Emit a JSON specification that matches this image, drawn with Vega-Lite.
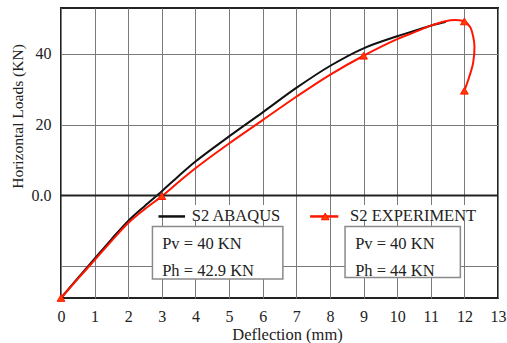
{
  "$schema": "https://vega.github.io/schema/vega-lite/v6.json",
  "width": 437,
  "height": 290,
  "autosize": {"type": "none"},
  "padding": {"left": 61, "top": 8, "right": 9, "bottom": 45},
  "data": {"values": [{}]},
  "config": {
    "view": {"stroke": "#222222", "strokeWidth": 2},
    "font": "Liberation Serif",
    "axis": {
      "grid": true,
      "gridColor": "#7a7a7a",
      "gridWidth": 1,
      "gridOpacity": 1,
      "domain": false,
      "ticks": false,
      "labelOverlap": false,
      "labelFlush": false,
      "labelFont": "Liberation Serif",
      "labelFontSize": 16,
      "labelColor": "#222222",
      "titleFont": "Liberation Serif",
      "titleFontWeight": "normal",
      "titleColor": "#222222"
    },
    "axisX": {"tickCount": 20, "format": "d"},
    "axisY": {"tickCount": 10}
  },
  "datasets": {
    "curves": [
      {"series": "S2 ABAQUS", "step": 1, "deflection": 0, "load": -29},
      {"series": "S2 ABAQUS", "step": 2, "deflection": 0.5, "load": -23.4},
      {"series": "S2 ABAQUS", "step": 3, "deflection": 1, "load": -17.9},
      {"series": "S2 ABAQUS", "step": 4, "deflection": 1.5, "load": -12.4},
      {"series": "S2 ABAQUS", "step": 5, "deflection": 2, "load": -7.2},
      {"series": "S2 ABAQUS", "step": 6, "deflection": 2.5, "load": -2.9},
      {"series": "S2 ABAQUS", "step": 7, "deflection": 3, "load": 1.2},
      {"series": "S2 ABAQUS", "step": 8, "deflection": 3.5, "load": 5.5},
      {"series": "S2 ABAQUS", "step": 9, "deflection": 4, "load": 9.6},
      {"series": "S2 ABAQUS", "step": 10, "deflection": 5, "load": 16.7},
      {"series": "S2 ABAQUS", "step": 11, "deflection": 6, "load": 23.5},
      {"series": "S2 ABAQUS", "step": 12, "deflection": 7, "load": 30.4},
      {"series": "S2 ABAQUS", "step": 13, "deflection": 8, "load": 36.6},
      {"series": "S2 ABAQUS", "step": 14, "deflection": 9, "load": 41.6},
      {"series": "S2 ABAQUS", "step": 15, "deflection": 10, "load": 45.0},
      {"series": "S2 ABAQUS", "step": 16, "deflection": 10.5, "load": 46.5},
      {"series": "S2 ABAQUS", "step": 17, "deflection": 11, "load": 48.0},
      {"series": "S2 ABAQUS", "step": 18, "deflection": 11.45, "load": 49.1},
      {"series": "S2 EXPERIMENT", "step": 1, "deflection": 0, "load": -29},
      {"series": "S2 EXPERIMENT", "step": 2, "deflection": 0.5, "load": -23.6},
      {"series": "S2 EXPERIMENT", "step": 3, "deflection": 1, "load": -18.3},
      {"series": "S2 EXPERIMENT", "step": 4, "deflection": 1.5, "load": -12.9},
      {"series": "S2 EXPERIMENT", "step": 5, "deflection": 2, "load": -7.8},
      {"series": "S2 EXPERIMENT", "step": 6, "deflection": 2.5, "load": -3.8},
      {"series": "S2 EXPERIMENT", "step": 7, "deflection": 3, "load": -0.2},
      {"series": "S2 EXPERIMENT", "step": 8, "deflection": 3.5, "load": 3.8},
      {"series": "S2 EXPERIMENT", "step": 9, "deflection": 4, "load": 7.7},
      {"series": "S2 EXPERIMENT", "step": 10, "deflection": 5, "load": 14.7},
      {"series": "S2 EXPERIMENT", "step": 11, "deflection": 6, "load": 21.3},
      {"series": "S2 EXPERIMENT", "step": 12, "deflection": 7, "load": 27.9},
      {"series": "S2 EXPERIMENT", "step": 13, "deflection": 8, "load": 34.1},
      {"series": "S2 EXPERIMENT", "step": 14, "deflection": 9, "load": 39.5},
      {"series": "S2 EXPERIMENT", "step": 15, "deflection": 10, "load": 44.2},
      {"series": "S2 EXPERIMENT", "step": 16, "deflection": 10.5, "load": 46.1},
      {"series": "S2 EXPERIMENT", "step": 17, "deflection": 11, "load": 48.0},
      {"series": "S2 EXPERIMENT", "step": 18, "deflection": 11.4, "load": 49.2},
      {"series": "S2 EXPERIMENT", "step": 19, "deflection": 11.75, "load": 49.6},
      {"series": "S2 EXPERIMENT", "step": 20, "deflection": 12, "load": 49.2},
      {"series": "S2 EXPERIMENT", "step": 21, "deflection": 12.17, "load": 47.6},
      {"series": "S2 EXPERIMENT", "step": 22, "deflection": 12.26, "load": 45.0},
      {"series": "S2 EXPERIMENT", "step": 23, "deflection": 12.3, "load": 42.1},
      {"series": "S2 EXPERIMENT", "step": 24, "deflection": 12.26, "load": 37.5},
      {"series": "S2 EXPERIMENT", "step": 25, "deflection": 12.15, "load": 33.7},
      {"series": "S2 EXPERIMENT", "step": 26, "deflection": 12, "load": 29.6}
    ],
    "tests": [
      {"deflection": 0, "load": -29},
      {"deflection": 3, "load": -0.2},
      {"deflection": 9, "load": 39.5},
      {"deflection": 12, "load": 49.2},
      {"deflection": 12, "load": 29.6}
    ]
  },
  "layer": [
    {
      "data": {"name": "curves"},
      "mark": {"type": "line", "interpolate": "catmull-rom", "strokeWidth": 2},
      "encoding": {
        "x": {
          "field": "deflection",
          "type": "quantitative",
          "scale": {"domain": [0, 13], "nice": false, "zero": false},
          "axis": {
            "values": [0, 1, 2, 3, 4, 5, 6, 7, 8, 9, 10, 11, 12, 13],
            "tickCount": 20,
            "format": "d",
            "labelOverlap": false,
            "labelFlush": false,
            "labelPadding": 10,
            "title": "Deflection (mm)",
            "titleFontSize": 16.5,
            "titleX": 226,
            "titleY": 41,
            "titleBaseline": "alphabetic"
          }
        },
        "y": {
          "field": "load",
          "type": "quantitative",
          "scale": {"domain": [-29, 53], "nice": false, "zero": false},
          "axis": {
            "values": [-20, 0, 20, 40],
            "tickCount": 10,
            "labelPadding": 10,
            "labelExpr": "datum.value == 0 ? '0.0' : (datum.value == -20 ? '' : format(datum.value, 'd'))",
            "title": "Horizontal Loads (KN)",
            "titleFontSize": 15.5,
            "titleX": -44,
            "titleY": 108,
            "titleAngle": 270,
            "titleAlign": "center",
            "titleBaseline": "middle"
          }
        },
        "color": {
          "field": "series",
          "type": "nominal",
          "scale": {"domain": ["S2 ABAQUS", "S2 EXPERIMENT"], "range": ["#111111", "#ff1500"]},
          "legend": null
        },
        "order": {"field": "step", "type": "quantitative"}
      }
    },
    {
      "mark": {"type": "rule", "color": "#222222", "strokeWidth": 2},
      "encoding": {"y": {"datum": 0, "type": "quantitative"}}
    },
    {
      "data": {"name": "tests"},
      "mark": {"type": "point", "shape": "triangle-up", "size": 60, "filled": true, "fill": "#ff3c00", "stroke": "#ff1500", "strokeWidth": 1, "opacity": 1},
      "encoding": {
        "x": {"field": "deflection", "type": "quantitative"},
        "y": {"field": "load", "type": "quantitative"}
      }
    },
    {
      "mark": {"type": "rect", "fill": "white"},
      "encoding": {
        "x": {"datum": 3.8, "type": "quantitative"},
        "x2": {"datum": 6.65},
        "y": {"datum": -2.7, "type": "quantitative"},
        "y2": {"datum": -7.1}
      }
    },
    {
      "mark": {"type": "rect", "fill": "white"},
      "encoding": {
        "x": {"datum": 8.5, "type": "quantitative"},
        "x2": {"datum": 12.5},
        "y": {"datum": -2.7, "type": "quantitative"},
        "y2": {"datum": -7.1}
      }
    },
    {
      "mark": {"type": "rule", "color": "#111111", "strokeWidth": 2.5},
      "encoding": {
        "x": {"datum": 2.9, "type": "quantitative"},
        "x2": {"datum": 3.69},
        "y": {"datum": -5.94, "type": "quantitative"}
      }
    },
    {
      "mark": {"type": "rule", "color": "#ff1500", "strokeWidth": 2.5},
      "encoding": {
        "x": {"datum": 7.41, "type": "quantitative"},
        "x2": {"datum": 8.25},
        "y": {"datum": -5.94, "type": "quantitative"}
      }
    },
    {
      "mark": {"type": "point", "shape": "triangle-up", "size": 60, "filled": true, "fill": "#ff3c00", "stroke": "#ff1500", "strokeWidth": 1, "opacity": 1},
      "encoding": {
        "x": {"datum": 7.86, "type": "quantitative"},
        "y": {"datum": -5.94, "type": "quantitative"}
      }
    },
    {
      "mark": {"type": "text", "align": "left", "baseline": "middle", "fontSize": 16.5, "color": "#222222", "text": "S2 ABAQUS"},
      "encoding": {
        "x": {"datum": 3.89, "type": "quantitative"},
        "y": {"datum": -5.94, "type": "quantitative"}
      }
    },
    {
      "mark": {"type": "text", "align": "left", "baseline": "middle", "fontSize": 16.5, "color": "#222222", "text": "S2 EXPERIMENT"},
      "encoding": {
        "x": {"datum": 8.6, "type": "quantitative"},
        "y": {"datum": -5.94, "type": "quantitative"}
      }
    },
    {
      "mark": {"type": "rect", "fill": "white", "stroke": "#8a8a8a", "strokeWidth": 1.5},
      "encoding": {
        "x": {"datum": 2.72, "type": "quantitative"},
        "x2": {"datum": 6.6},
        "y": {"datum": -8.77, "type": "quantitative"},
        "y2": {"datum": -23.65}
      }
    },
    {
      "mark": {"type": "rect", "fill": "white", "stroke": "#8a8a8a", "strokeWidth": 1.5},
      "encoding": {
        "x": {"datum": 8.45, "type": "quantitative"},
        "x2": {"datum": 11.88},
        "y": {"datum": -8.77, "type": "quantitative"},
        "y2": {"datum": -23.2}
      }
    },
    {
      "mark": {"type": "text", "align": "left", "baseline": "middle", "fontSize": 16.5, "color": "#222222", "text": "Pv = 40 KN"},
      "encoding": {
        "x": {"datum": 3.01, "type": "quantitative"},
        "y": {"datum": -13.75, "type": "quantitative"}
      }
    },
    {
      "mark": {"type": "text", "align": "left", "baseline": "middle", "fontSize": 16.5, "color": "#222222", "text": "Ph = 42.9 KN"},
      "encoding": {
        "x": {"datum": 3.01, "type": "quantitative"},
        "y": {"datum": -21.3, "type": "quantitative"}
      }
    },
    {
      "mark": {"type": "text", "align": "left", "baseline": "middle", "fontSize": 16.5, "color": "#222222", "text": "Pv = 40 KN"},
      "encoding": {
        "x": {"datum": 8.75, "type": "quantitative"},
        "y": {"datum": -13.7, "type": "quantitative"}
      }
    },
    {
      "mark": {"type": "text", "align": "left", "baseline": "middle", "fontSize": 16.5, "color": "#222222", "text": "Ph = 44 KN"},
      "encoding": {
        "x": {"datum": 8.75, "type": "quantitative"},
        "y": {"datum": -21.3, "type": "quantitative"}
      }
    }
  ]
}
